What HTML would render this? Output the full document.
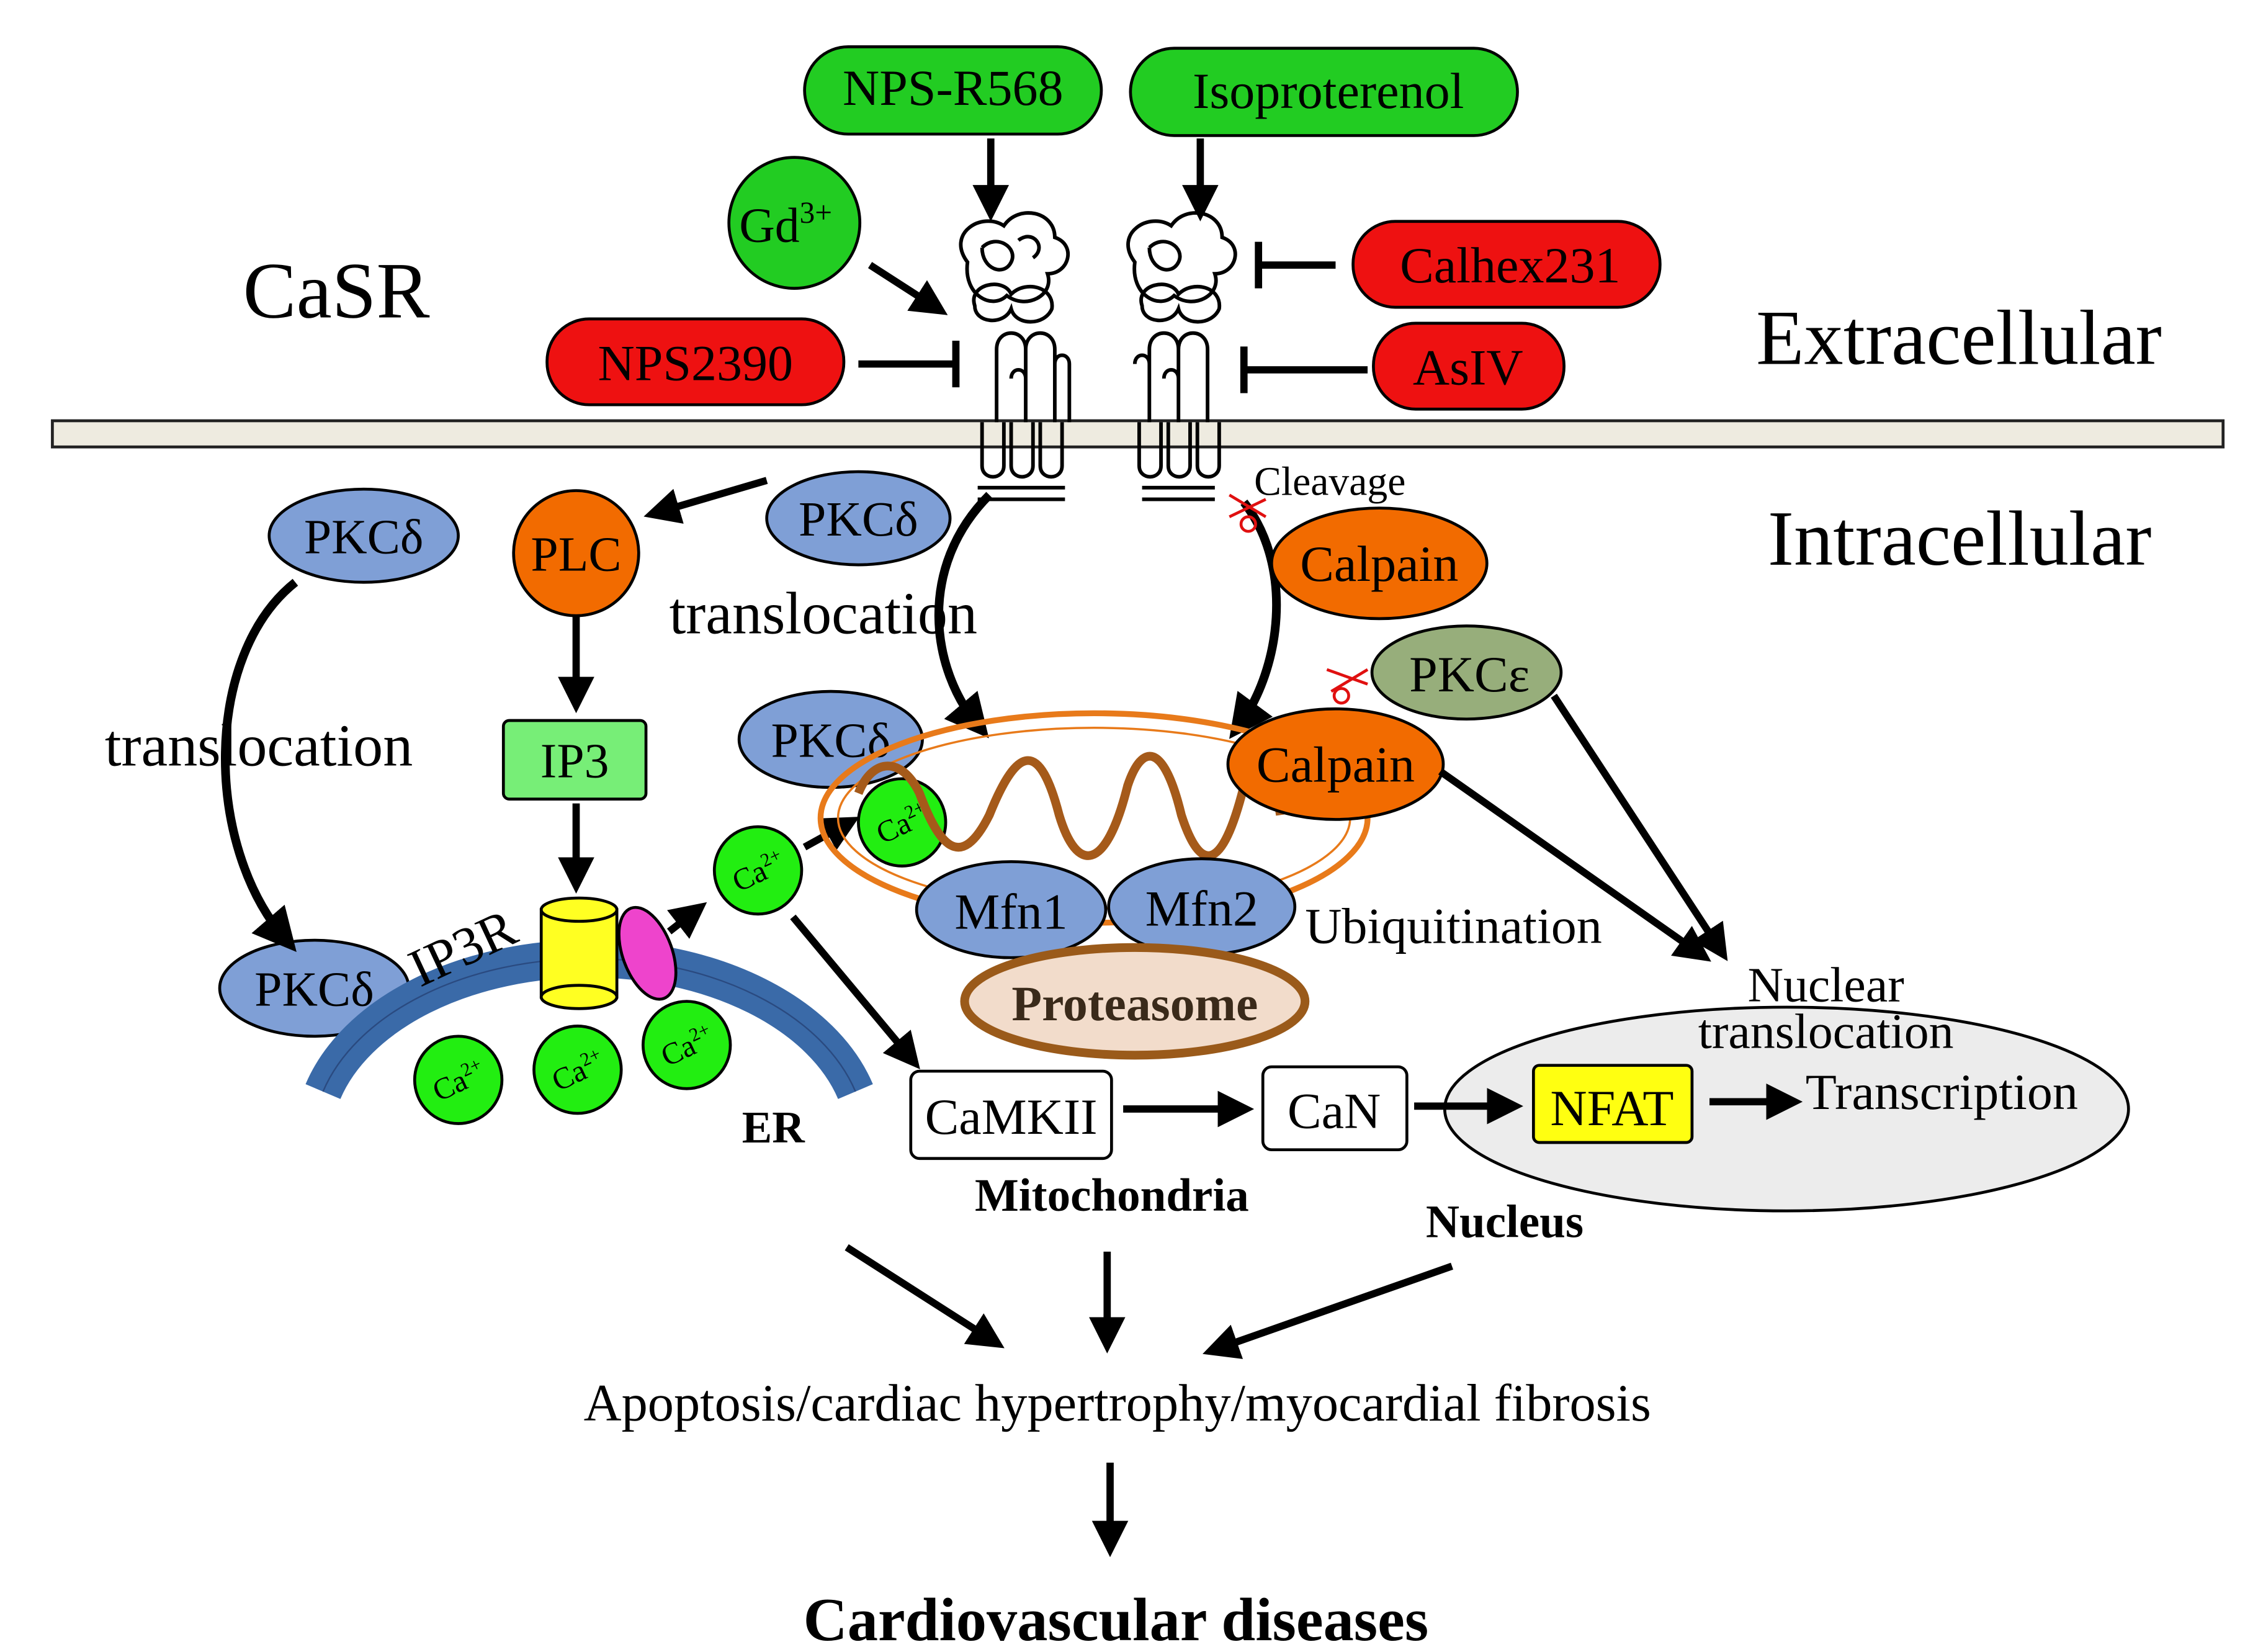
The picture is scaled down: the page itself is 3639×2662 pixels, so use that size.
<!DOCTYPE html>
<html><head><meta charset="utf-8"><style>
html,body{margin:0;padding:0;background:#fff;}
svg{display:block;}
text{font-family:"Liberation Serif",serif;}
</style></head><body>
<svg width="3639" height="2662" viewBox="0 0 1552 1135" xmlns="http://www.w3.org/2000/svg">
<defs>
<marker id="ah" markerWidth="5" markerHeight="5" refX="3" refY="2.5" orient="auto" markerUnits="strokeWidth"><path d="M0,0 L5,2.5 L0,5 z" fill="#000"/></marker>
</defs>
<rect width="1552" height="1135" fill="#fff"/>
<rect x="36" y="289" width="1492" height="18" fill="#eeebe0" stroke="#222" stroke-width="2"/>
<rect x="553" y="32" width="204" height="60" rx="30" fill="#22cc22" stroke="#000" stroke-width="2"/>
<text x="655" y="72" font-size="35" text-anchor="middle">NPS-R568</text>
<rect x="777" y="33" width="266" height="60" rx="30" fill="#22cc22" stroke="#000" stroke-width="2"/>
<text x="913" y="74" font-size="35" text-anchor="middle">Isoproterenol</text>
<circle cx="546" cy="153" r="45" fill="#22cc22" stroke="#000" stroke-width="2"/>
<text x="540" y="166" font-size="34" text-anchor="middle">Gd<tspan font-size="21" dy="-13">3+</tspan></text>
<rect x="930" y="152" width="211" height="59" rx="29" fill="#ee1111" stroke="#000" stroke-width="2"/>
<text x="1038" y="194" font-size="35" text-anchor="middle">Calhex231</text>
<rect x="944" y="222" width="131" height="59" rx="29" fill="#ee1111" stroke="#000" stroke-width="2"/>
<text x="1009" y="264" font-size="35" text-anchor="middle">AsIV</text>
<rect x="376" y="219" width="204" height="59" rx="29" fill="#ee1111" stroke="#000" stroke-width="2"/>
<text x="478" y="261" font-size="35" text-anchor="middle">NPS2390</text>
<text x="167" y="218" font-size="55">CaSR</text>
<text x="1207" y="250" font-size="54">Extracellular</text>
<text x="1215" y="388" font-size="54">Intracellular</text>
<g stroke="#000" stroke-width="5" fill="none">
<line x1="681" y1="95" x2="681" y2="142" marker-end="url(#ah)"/>
<line x1="825" y1="95" x2="825" y2="142" marker-end="url(#ah)"/>
<line x1="598" y1="182" x2="643" y2="211" marker-end="url(#ah)"/>
<line x1="590" y1="250" x2="656" y2="250"/><line x1="657" y1="234" x2="657" y2="266"/>
<line x1="918" y1="182" x2="866" y2="182"/><line x1="865" y1="166" x2="865" y2="198"/>
<line x1="940" y1="254" x2="856" y2="254"/><line x1="855" y1="238" x2="855" y2="270"/>
</g>
<g fill="none" stroke="#000" stroke-width="2.5">
<path d="M665,180 c-15,-20 10,-35 25,-25 c10,-15 35,-10 35,8 c15,5 10,25 -5,25 c5,15 -15,25 -28,15 c-10,10 -30,0 -27,-23 z"/>
<path d="M675,170 c10,-10 25,0 20,10 c-5,10 -20,5 -20,-10"/>
<path d="M700,165 c10,-8 20,5 10,12"/>
<path d="M670,210 c-5,-15 20,-20 25,-8 c10,-10 30,-5 28,10 c-5,12 -25,12 -28,0 c-5,12 -25,10 -25,-2 z"/>
<path d="M685,240 c0,-15 20,-15 20,0 l0,50 M705,240 c0,-15 20,-15 20,0 l0,50 M685,240 l0,50 M695,260 c0,-8 10,-8 10,0 l0,30 M725,250 c0,-8 10,-8 10,0 l0,40"/>
<path d="M675,290 l0,30 c0,10 15,10 15,0 l0,-30 M695,290 l0,30 c0,10 15,10 15,0 l0,-30 M715,290 l0,30 c0,10 15,10 15,0 l0,-30"/>
<path d="M672,335 l60,0 M672,343 l60,0"/>
<path d="M780,180 c-15,-20 10,-35 25,-25 c10,-15 35,-10 35,8 c15,5 10,25 -5,25 c5,15 -15,25 -28,15 c-10,10 -30,0 -27,-23 z"/>
<path d="M790,170 c10,-10 25,0 20,10 c-5,10 -20,5 -20,-10"/>
<path d="M785,210 c-5,-15 20,-20 25,-8 c10,-10 30,-5 28,10 c-5,12 -25,12 -28,0 c-5,12 -25,10 -25,-2 z"/>
<path d="M790,240 c0,-15 20,-15 20,0 l0,50 M810,240 c0,-15 20,-15 20,0 l0,50 M790,240 l0,50 M800,260 c0,-8 10,-8 10,0 l0,30 M780,250 c0,-8 10,-8 10,0 l0,40"/>
<path d="M783,290 l0,30 c0,10 15,10 15,0 l0,-30 M803,290 l0,30 c0,10 15,10 15,0 l0,-30 M823,290 l0,30 c0,10 15,10 15,0 l0,-30"/>
<path d="M785,335 l50,0 M785,343 l50,0"/>
</g>
<g stroke="#000" stroke-width="2">
<ellipse cx="250" cy="368" rx="65" ry="32" fill="#7f9fd6"/>
<ellipse cx="590" cy="356" rx="63" ry="32" fill="#7f9fd6"/>
<ellipse cx="571" cy="508" rx="63" ry="33" fill="#7f9fd6"/>
<ellipse cx="216" cy="679" rx="65" ry="33" fill="#7f9fd6"/>
<circle cx="396" cy="380" r="43" fill="#f26b00"/>
<rect x="346" y="495" width="98" height="54" rx="4" fill="#77ee77"/>
</g>
<g font-size="34" text-anchor="middle">
<text x="250" y="380">PKCδ</text><text x="590" y="368">PKCδ</text><text x="571" y="520">PKCδ</text><text x="216" y="691">PKCδ</text>
<text x="396" y="392">PLC</text><text x="395" y="534">IP3</text>
</g>
<text x="460" y="435" font-size="41">translocation</text>
<text x="72" y="526" font-size="41">translocation</text>
<g stroke="#000" stroke-width="5" fill="none">
<line x1="527" y1="330" x2="452" y2="352" marker-end="url(#ah)"/>
<line x1="396" y1="422" x2="396" y2="480" marker-end="url(#ah)"/>
<line x1="396" y1="552" x2="396" y2="604" marker-end="url(#ah)"/>
<line x1="460" y1="640" x2="478" y2="626" marker-end="url(#ah)"/>
<line x1="553" y1="582" x2="582" y2="566" marker-end="url(#ah)"/>
<line x1="545" y1="630" x2="626" y2="727" marker-end="url(#ah)"/>
</g>
<path d="M203,400 C140,450 140,580 196,645" fill="none" stroke="#000" stroke-width="6" marker-end="url(#ah)"/>
<path d="M680,340 C630,390 640,460 672,498" fill="none" stroke="#000" stroke-width="6" marker-end="url(#ah)"/>
<path d="M855,345 C890,390 880,460 852,498" fill="none" stroke="#000" stroke-width="6" marker-end="url(#ah)"/>
<path d="M222,750 A190,125 0 0 1 588,750" fill="none" stroke="#3a6aa8" stroke-width="26"/>
<path d="M222,750 A190,125 0 0 1 588,750" fill="none" stroke="#2a4a80" stroke-width="1"/>
<text x="282" y="672" font-size="37" transform="rotate(-25 300 660)">IP3R</text>
<rect x="372" y="625" width="52" height="60" fill="#ffff22" stroke="#000" stroke-width="2"/>
<ellipse cx="398" cy="625" rx="26" ry="8" fill="#ffff22" stroke="#000" stroke-width="2"/>
<ellipse cx="398" cy="685" rx="26" ry="8" fill="#ffff22" stroke="#000" stroke-width="2"/>
<ellipse cx="445" cy="655" rx="17" ry="33" transform="rotate(-20 445 655)" fill="#ee44cc" stroke="#000" stroke-width="2"/>
<g stroke="#000" stroke-width="2" fill="#22ee11">
<circle cx="315" cy="742" r="30"/><circle cx="397" cy="735" r="30"/><circle cx="472" cy="718" r="30"/><circle cx="521" cy="598" r="30"/><circle cx="620" cy="565" r="30"/>
</g>
<g font-size="21" text-anchor="middle">
<text x="315" y="750" transform="rotate(-25 315 742)">Ca<tspan font-size="13" dy="-8">2+</tspan></text>
<text x="397" y="743" transform="rotate(-25 397 735)">Ca<tspan font-size="13" dy="-8">2+</tspan></text>
<text x="472" y="726" transform="rotate(-25 472 718)">Ca<tspan font-size="13" dy="-8">2+</tspan></text>
<text x="521" y="606" transform="rotate(-25 521 598)">Ca<tspan font-size="13" dy="-8">2+</tspan></text>
<text x="620" y="573" transform="rotate(-25 620 565)">Ca<tspan font-size="13" dy="-8">2+</tspan></text>
</g>
<text x="510" y="785" font-size="31" font-weight="bold">ER</text>
<ellipse cx="752" cy="562" rx="188" ry="72" fill="none" stroke="#e87a1a" stroke-width="4"/>
<ellipse cx="752" cy="562" rx="176" ry="62" fill="none" stroke="#e87a1a" stroke-width="1.5"/>
<path d="M590,545 C600,520 620,520 632,545 C645,580 660,600 680,560 C700,510 715,510 728,560 C740,600 760,600 775,540 C785,510 800,510 812,560 C825,600 840,600 855,540 C862,515 875,525 880,560" fill="none" stroke="#a55a1a" stroke-width="6"/>
<g stroke="#000" stroke-width="2" fill="#7f9fd6">
<ellipse cx="695" cy="625" rx="65" ry="33"/><ellipse cx="826" cy="623" rx="64" ry="33"/>
</g>
<text x="695" y="638" font-size="35" text-anchor="middle">Mfn1</text>
<text x="826" y="636" font-size="35" text-anchor="middle">Mfn2</text>
<ellipse cx="780" cy="688" rx="117" ry="37" fill="#f2dccb" stroke="#9a5a1a" stroke-width="6"/>
<text x="780" y="701" font-size="34" font-weight="bold" text-anchor="middle" fill="#3a2a1a">Proteasome</text>
<text x="670" y="832" font-size="32" font-weight="bold">Mitochondria</text>
<text x="897" y="648" font-size="35">Ubiquitination</text>
<g stroke="#000" stroke-width="2">
<ellipse cx="948" cy="387" rx="74" ry="38" fill="#f26b00"/>
<ellipse cx="918" cy="525" rx="74" ry="38" fill="#f26b00"/>
<ellipse cx="1008" cy="462" rx="65" ry="32" fill="#97ae7b"/>
</g>
<text x="948" y="399" font-size="35" text-anchor="middle">Calpain</text>
<text x="918" y="537" font-size="35" text-anchor="middle">Calpain</text>
<text x="1010" y="475" font-size="35" text-anchor="middle">PKCε</text>
<text x="862" y="340" font-size="28">Cleavage</text>
<g stroke="#e01010" stroke-width="2" fill="none">
<path d="M845,340 l25,15 M845,355 l25,-12"/><circle cx="858" cy="360" r="5"/>
<path d="M912,460 l28,10 M915,475 l25,-15"/><circle cx="922" cy="478" r="5"/>
</g>
<g stroke="#000" stroke-width="5" fill="none">
<line x1="990" y1="530" x2="1168" y2="655" marker-end="url(#ah)"/>
<line x1="1068" y1="478" x2="1182" y2="652" marker-end="url(#ah)"/>
</g>
<ellipse cx="1228" cy="762" rx="235" ry="70" fill="#ececec" stroke="#000" stroke-width="2"/>
<text x="1255" y="688" font-size="34" text-anchor="middle">Nuclear</text>
<text x="1255" y="720" font-size="34" text-anchor="middle">translocation</text>
<rect x="626" y="736" width="138" height="60" rx="6" fill="#fff" stroke="#000" stroke-width="2"/>
<text x="695" y="779" font-size="35" text-anchor="middle">CaMKII</text>
<rect x="868" y="733" width="99" height="57" rx="6" fill="#fff" stroke="#000" stroke-width="2"/>
<text x="917" y="775" font-size="35" text-anchor="middle">CaN</text>
<rect x="1054" y="732" width="109" height="53" rx="4" fill="#ffff11" stroke="#000" stroke-width="2"/>
<text x="1108" y="773" font-size="35" text-anchor="middle">NFAT</text>
<text x="1241" y="762" font-size="35">Transcription</text>
<g stroke="#000" stroke-width="5" fill="none">
<line x1="772" y1="762" x2="852" y2="762" marker-end="url(#ah)"/>
<line x1="972" y1="760" x2="1037" y2="760" marker-end="url(#ah)"/>
<line x1="1175" y1="757" x2="1229" y2="757" marker-end="url(#ah)"/>
<line x1="582" y1="857" x2="682" y2="921" marker-end="url(#ah)"/>
<line x1="761" y1="860" x2="761" y2="920" marker-end="url(#ah)"/>
<line x1="998" y1="870" x2="836" y2="927" marker-end="url(#ah)"/>
<line x1="763" y1="1005" x2="763" y2="1060" marker-end="url(#ah)"/>
</g>
<text x="980" y="850" font-size="32" font-weight="bold">Nucleus</text>
<text x="768" y="976" font-size="36" text-anchor="middle">Apoptosis/cardiac hypertrophy/myocardial fibrosis</text>
<text x="767" y="1127" font-size="42" font-weight="bold" text-anchor="middle">Cardiovascular diseases</text>
</svg>
</body></html>
